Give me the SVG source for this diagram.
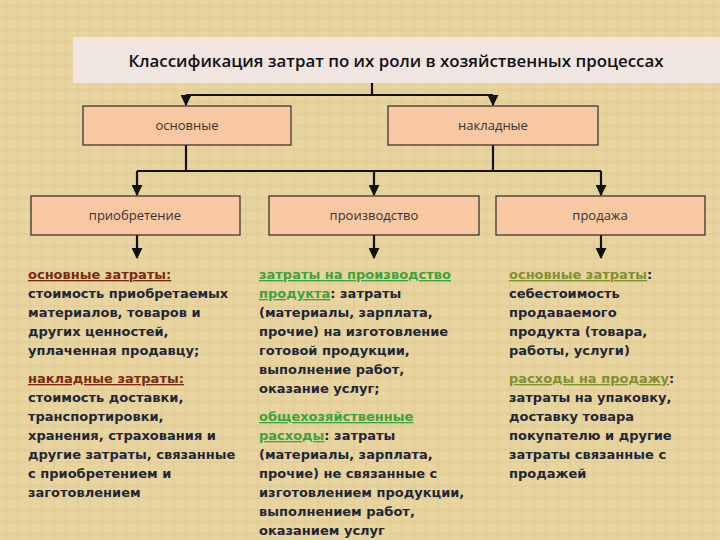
<svg xmlns="http://www.w3.org/2000/svg" width="720" height="540" viewBox="0 0 720 540">
<defs>
<marker id="ah" viewBox="0 0 10 10" refX="9" refY="5" markerWidth="5" markerHeight="5" orient="auto"><path d="M0,0 L10,5 L0,10 z" fill="#111"/></marker>
<pattern id="tex" width="12" height="12" patternUnits="userSpaceOnUse"><rect width="12" height="12" fill="#e8d49e"/><path d="M0,6 H12 M6,0 V12" stroke="#e0ca92" stroke-width="1"/></pattern>
</defs>
<style>
.box{fill:#f7c8a2;stroke:#2a2a2a;stroke-width:1.2}
.lbl{font-family:"Open Sans","Liberation Sans",sans-serif;font-size:13px;fill:#333;text-anchor:middle}
.ln{stroke:#111;stroke-width:2.2;fill:none}
.t{font-family:"DejaVu Sans","Liberation Sans",sans-serif;font-size:13px;font-weight:bold;fill:#1e2638}
.r{fill:#7a2a10;text-decoration:underline}
.g{fill:#3ca33c;text-decoration:underline}
.o{fill:#7f9030;text-decoration:underline}
</style>
<rect width="720" height="540" fill="url(#tex)"/>
<g id="title"><rect x="73" y="37" width="647" height="46" fill="#f1e5e2"/>
<text x="396" y="67" text-anchor="middle" font-family="'Open Sans','Liberation Sans',sans-serif" font-size="16" font-weight="600" fill="#111" textLength="535" lengthAdjust="spacingAndGlyphs">Классификация затрат по их роли в хозяйственных процессах</text></g>
<g id="connectors">
<path class="ln" d="M372,83 V95 M186,95 H493"/>
<path class="ln" d="M186,95 V105" marker-end="url(#ah)"/>
<path class="ln" d="M493,95 V105" marker-end="url(#ah)"/>
<path class="ln" d="M186,145 V171 M493,145 V171 M137,171 H601"/>
<path class="ln" d="M137,171 V195" marker-end="url(#ah)"/>
<path class="ln" d="M374,171 V195" marker-end="url(#ah)"/>
<path class="ln" d="M601,171 V195" marker-end="url(#ah)"/>
<path class="ln" d="M137,235 V258" marker-end="url(#ah)"/>
<path class="ln" d="M374,235 V258" marker-end="url(#ah)"/>
<path class="ln" d="M601,235 V258" marker-end="url(#ah)"/>
</g>
<g id="n-osn"><rect class="box" x="83" y="106" width="208" height="39"/><text class="lbl" x="187" y="130">основные</text></g>
<g id="n-nakl"><rect class="box" x="388" y="106" width="210" height="39"/><text class="lbl" x="493" y="130">накладные</text></g>
<g id="n-priob"><rect class="box" x="31" y="196" width="209" height="39"/><text class="lbl" x="135" y="220">приобретение</text></g>
<g id="n-proizv"><rect class="box" x="269" y="196" width="210" height="39"/><text class="lbl" x="374" y="220">производство</text></g>
<g id="n-prod"><rect class="box" x="496" y="196" width="209" height="39"/><text class="lbl" x="600" y="220">продажа</text></g>
<g id="txt-left" class="t">
<text x="28" y="279"><tspan class="r">основные затраты:</tspan></text>
<text x="28" y="298">стоимость приобретаемых</text>
<text x="28" y="317">материалов, товаров и</text>
<text x="28" y="336">других ценностей,</text>
<text x="28" y="355">уплаченная продавцу;</text>
<text x="28" y="383"><tspan class="r">накладные затраты:</tspan></text>
<text x="28" y="402">стоимость доставки,</text>
<text x="28" y="421">транспортировки,</text>
<text x="28" y="440">хранения, страхования и</text>
<text x="28" y="459">другие затраты, связанные</text>
<text x="28" y="478">с приобретением и</text>
<text x="28" y="497">заготовлением</text>
</g>
<g id="txt-mid" class="t">
<text x="259" y="279"><tspan class="g">затраты на производство</tspan></text>
<text x="259" y="298"><tspan class="g">продукта</tspan>: затраты</text>
<text x="259" y="317">(материалы, зарплата,</text>
<text x="259" y="336">прочие) на изготовление</text>
<text x="259" y="355">готовой продукции,</text>
<text x="259" y="374">выполнение работ,</text>
<text x="259" y="393">оказание услуг;</text>
<text x="259" y="421"><tspan class="g">общехозяйственные</tspan></text>
<text x="259" y="440"><tspan class="g">расходы</tspan>: затраты</text>
<text x="259" y="459">(материалы, зарплата,</text>
<text x="259" y="478">прочие) не связанные с</text>
<text x="259" y="497">изготовлением продукции,</text>
<text x="259" y="516">выполнением работ,</text>
<text x="259" y="535">оказанием услуг</text>
</g>
<g id="txt-right" class="t">
<text x="509" y="279"><tspan class="o">основные затраты</tspan>:</text>
<text x="509" y="298">себестоимость</text>
<text x="509" y="317">продаваемого</text>
<text x="509" y="336">продукта (товара,</text>
<text x="509" y="355">работы, услуги)</text>
<text x="509" y="383"><tspan class="o">расходы на продажу</tspan>:</text>
<text x="509" y="402">затраты на упаковку,</text>
<text x="509" y="421">доставку товара</text>
<text x="509" y="440">покупателю и другие</text>
<text x="509" y="459">затраты связанные с</text>
<text x="509" y="478">продажей</text>
</g>
</svg>
